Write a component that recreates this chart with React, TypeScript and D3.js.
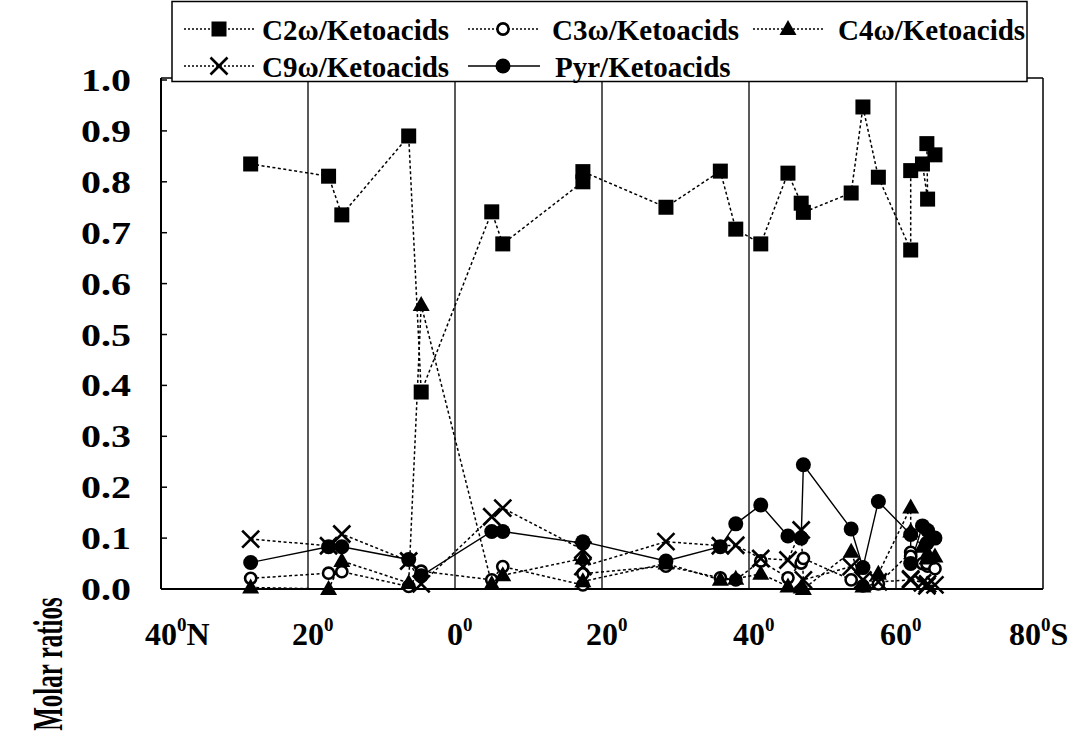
import React from "react";
import * as d3 from "d3";

// Sample latitudes (negative = °N, positive = °S)
const latitudes = [-27.8, -17.2, -15.4, -6.3, -4.6, 5.0, 6.5, 17.4, 17.4, 28.7, 36.1, 38.2, 41.6, 45.3, 47.1, 47.4, 53.9, 55.5, 57.6, 62.0, 62.0, 63.6, 64.3, 64.2, 65.3];

const c2 = [0.835, 0.811, 0.735, 0.89, 0.387, 0.741, 0.678, 0.80, 0.82, 0.75, 0.821, 0.707, 0.678, 0.817, 0.758, 0.74, 0.778, 0.947, 0.809, 0.666, 0.822, 0.835, 0.766, 0.875, 0.853];
const c3 = [0.021, 0.031, 0.034, 0.005, 0.035, 0.018, 0.044, 0.008, 0.03, 0.045, 0.022, 0.018, 0.055, 0.022, 0.051, 0.06, 0.018, 0.006, 0.01, 0.072, 0.064, 0.05, 0.045, 0.05, 0.04];
const c4 = [0.003, 0.0, 0.055, 0.012, 0.558, 0.01, 0.027, 0.06, 0.015, 0.05, 0.018, 0.02, 0.03, 0.005, 0.003, 0.0, 0.073, 0.005, 0.03, 0.16, 0.113, 0.083, 0.07, 0.06, 0.064];
const c9 = [0.098, 0.085, 0.108, 0.055, 0.01, 0.142, 0.159, 0.077, 0.044, 0.093, 0.085, 0.086, 0.06, 0.057, 0.116, 0.018, 0.044, 0.018, 0.014, 0.018, 0.02, 0.012, 0.01, 0.006, 0.008];
const pyr = [0.052, 0.083, 0.083, 0.058, 0.026, 0.113, 0.113, 0.09, 0.093, 0.055, 0.083, 0.128, 0.165, 0.104, 0.10, 0.244, 0.118, 0.042, 0.172, 0.107, 0.05, 0.124, 0.115, 0.09, 0.10];

const yTicks = [0, 0.1, 0.2, 0.3, 0.4, 0.5, 0.6, 0.7, 0.8, 0.9, 1.0];
const xTicks = [-40, -20, 0, 20, 40, 60, 80];
const xTickNumbers = ["40", "20", "0", "20", "40", "60", "80"];
const xTickSuffix = ["N", "", "", "", "", "", "S"];
const gridLats = [-20, 0, 20, 40, 60];

const seriesNames = ["C2ω/Ketoacids", "C3ω/Ketoacids", "C4ω/Ketoacids", "C9ω/Ketoacids", "Pyr/Ketoacids"];

const FONT = "'Liberation Serif', 'Times New Roman', serif";

type Kind = "square" | "open" | "triangle" | "cross" | "dot";

function Marker({ kind, x, y }: { kind: Kind; x: number; y: number }) {
  if (kind === "square") return <rect x={x - 7.5} y={y - 7.5} width={15} height={15} fill="#000" />;
  if (kind === "open") return <circle cx={x} cy={y} r={5.6} fill="#fff" stroke="#000" strokeWidth={2.6} />;
  if (kind === "triangle") return <path d={`M${x},${y - 9}L${x + 8.5},${y + 6}L${x - 8.5},${y + 6}Z`} fill="#000" />;
  if (kind === "cross")
    return (
      <path d={`M${x - 8.5},${y - 8.5}L${x + 8.5},${y + 8.5}M${x + 8.5},${y - 8.5}L${x - 8.5},${y + 8.5}`} stroke="#000" strokeWidth={2.6} fill="none" />
    );
  return <circle cx={x} cy={y} r={7.5} fill="#000" />;
}

export default function App() {
  const W = 1069, H = 731;
  const x = d3.scaleLinear().domain([-40, 80]).range([161, 1043]);
  const y = d3.scaleLinear().domain([0, 1]).range([589, 80]);

  const series: { vals: number[]; kind: Kind; dashed: boolean }[] = [
    { vals: c2, kind: "square", dashed: true },
    { vals: c3, kind: "open", dashed: true },
    { vals: c4, kind: "triangle", dashed: true },
    { vals: c9, kind: "cross", dashed: true },
    { vals: pyr, kind: "dot", dashed: false },
  ];

  const line = d3
    .line<number>()
    .x((_, i) => x(latitudes[i]))
    .y((v) => y(v));

  const legendItems = [
    { s: 0, lx: 184, ly: 29, tx: 262 },
    { s: 1, lx: 468, ly: 29, tx: 552 },
    { s: 2, lx: 753, ly: 29, tx: 838 },
    { s: 3, lx: 184, ly: 66, tx: 262 },
    { s: 4, lx: 468, ly: 66, tx: 555 },
  ];

  const x0 = x(-40), x1 = x(80), yTop = y(1), yBot = y(0);

  return (
    <svg width={W} height={H} style={{ position: "absolute", left: 0, top: 0, background: "#fff" }} fontFamily={FONT}>
      <rect x={0} y={0} width={W} height={H} fill="#fff" />
      {/* frame */}
      <line x1={x0} y1={yTop - 2} x2={x1} y2={yTop - 2} stroke="#000" strokeWidth={1.5} />
      <line x1={x1} y1={yTop - 2} x2={x1} y2={yBot} stroke="#000" strokeWidth={1.5} />
      <line x1={x0} y1={yTop - 2} x2={x0} y2={yBot} stroke="#000" strokeWidth={2} />
      <line x1={x0} y1={yBot} x2={x1} y2={yBot} stroke="#000" strokeWidth={2} />
      {gridLats.map((g) => (
        <line key={g} x1={x(g)} y1={yTop - 2} x2={x(g)} y2={yBot} stroke="#000" strokeWidth={1.3} />
      ))}
      {/* y ticks */}
      {yTicks.map((t) => (
        <g key={t}>
          <line x1={x0} y1={y(t)} x2={x0 + 6} y2={y(t)} stroke="#000" strokeWidth={1.5} />
          <text transform={`translate(131,${y(t) + 11}) scale(1.25,1)`} textAnchor="end" fontSize={32} fontWeight="bold">
            {t.toFixed(1)}
          </text>
        </g>
      ))}
      {/* x tick labels */}
      {xTicks.map((t, i) => {
        const num = xTickNumbers[i];
        const w = num.length * 16;
        const shift = t === 80 ? -18 : 0;
        return (
          <text key={t} x={x(t) - w / 2 + shift} y={645} fontSize={32} fontWeight="bold">
            {num}
            <tspan fontSize={19} dy={-14}>0</tspan>
            {xTickSuffix[i] && <tspan dy={14}>{xTickSuffix[i]}</tspan>}
          </text>
        );
      })}
      {/* y axis title */}
      <text transform="translate(62,664) rotate(-90) scale(1,1.65)" textAnchor="middle" fontSize={25} fontWeight="bold">
        Molar ratios
      </text>
      {/* lines */}
      {series.map((s, si) => (
        <path key={si} d={line(s.vals) || ""} fill="none" stroke="#000" strokeWidth={s.dashed ? 1.5 : 1.4} strokeDasharray={s.dashed ? "3,2.5" : undefined} />
      ))}
      {/* markers */}
      {series.map((s, si) => (
        <g key={si}>
          {s.vals.map((v, i) => (
            <Marker key={i} kind={s.kind} x={x(latitudes[i])} y={y(v)} />
          ))}
        </g>
      ))}
      {/* legend */}
      <rect x={172} y={1.5} width={855} height={80} fill="#fff" stroke="#000" strokeWidth={1.5} />
      {legendItems.map((it) => {
        const s = series[it.s];
        return (
          <g key={it.s}>
            <line x1={it.lx} y1={it.ly} x2={it.lx + 72} y2={it.ly} stroke="#000" strokeWidth={s.dashed ? 1.3 : 1.5} strokeDasharray={s.dashed ? "2,2" : undefined} />
            <Marker kind={s.kind} x={it.lx + 35} y={it.ly} />
            <text x={it.tx} y={it.ly + 11} fontSize={29} fontWeight="bold">
              {seriesNames[it.s]}
            </text>
          </g>
        );
      })}
    </svg>
  );
}
